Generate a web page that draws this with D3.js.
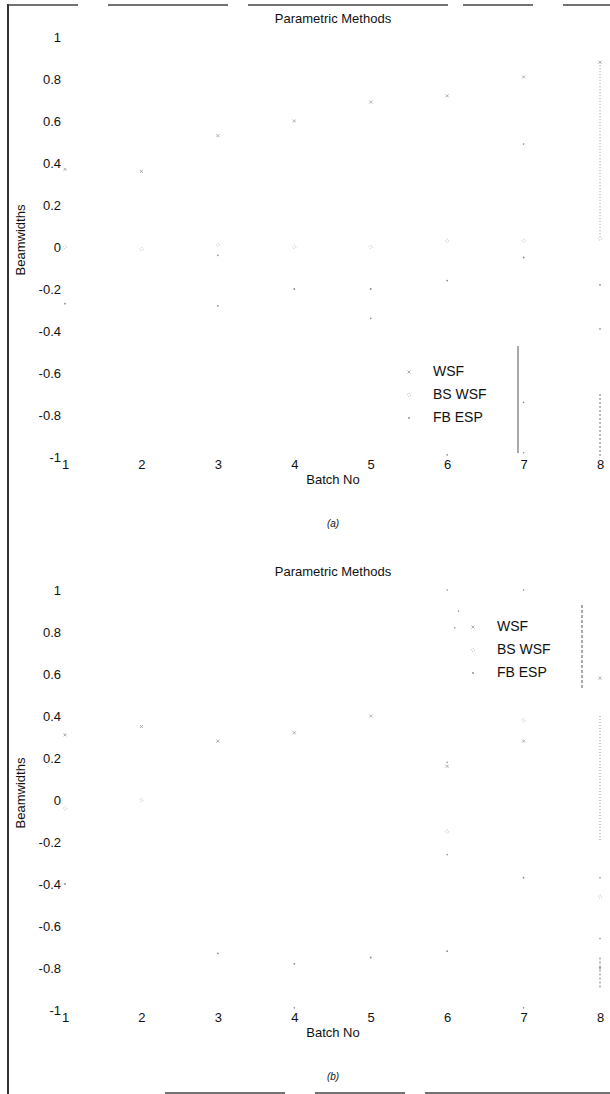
<!DOCTYPE html>
<html>
<head>
<meta charset="utf-8">
<script src="https://cdn.jsdelivr.net/npm/d3@7"></script>
<style>
  body { margin: 0; background: #fff; }
  text { font-family: "Liberation Sans", Arial, sans-serif; fill: #111; }
</style>
</head>
<body>
<script>
// Data
var batches = [1, 2, 3, 4, 5, 6, 7, 8];
var yTickValues = [1, 0.8, 0.6, 0.4, 0.2, 0, -0.2, -0.4, -0.6, -0.8, -1];
var yTickLabels = ["1", "0.8", "0.6", "0.4", "0.2", "0", "-0.2", "-0.4", "-0.6", "-0.8", "-1"];
var seriesNames = ["WSF", "BS WSF", "FB ESP"];

// panel (a)
var wsfA = [0.37, 0.36, 0.53, 0.60, 0.69, 0.72, 0.81, 0.88];
var bsWsfA = [0.00, -0.01, 0.01, 0.00, 0.00, 0.03, 0.03, 0.04];
var fbEspA = [-0.27, null, -0.28, -0.20, -0.20, -0.16, -0.05, -0.18];
var strayA = [[5, -0.34], [7, 0.49], [7, -0.74], [7, -0.98], [6, -0.99], [8, -0.39], [3, -0.04]];
var boxSegA = [[0.88, 0.05], [-0.7, -1]];

// panel (b)
var wsfB = [0.31, 0.35, 0.28, 0.32, 0.40, 0.16, 0.28, 0.58];
var bsWsfB = [-0.04, 0.00, null, null, null, -0.15, 0.38, -0.46];
var fbEspB = [-0.40, null, -0.73, -0.78, -0.75, -0.72, -0.37, -0.80];
var strayB = [[6, 1.0], [7, 1.0], [6.15, 0.9], [6.1, 0.82], [6, 0.18], [6, -0.26], [4, -0.99], [7, -0.99], [8, -0.66], [8, -0.37]];
var boxSegB = [[0.4, -0.2], [-0.75, -0.9]];

var svg = d3.select("body")
  .append("svg")
  .attr("width", 610)
  .attr("height", 1094);

// page frame of the scan
svg.append("line").attr("x1", 8).attr("x2", 8).attr("y1", 4).attr("y2", 1094)
  .attr("stroke", "#333").attr("stroke-width", 2);
svg.append("line").attr("x1", 8).attr("x2", 610).attr("y1", 5).attr("y2", 5)
  .attr("stroke", "#444").attr("stroke-width", 1.5).attr("stroke-dasharray", "70,30,120,20,200,15");
svg.append("line").attr("x1", 165).attr("x2", 610).attr("y1", 1093).attr("y2", 1093)
  .attr("stroke", "#444").attr("stroke-width", 1.5).attr("stroke-dasharray", "120,30,90,20,400");

function drawPanel(off, series, stray, boxSeg, legend, caption) {
  var x = d3.scaleLinear().domain([1, 8]).range([65, 600]);
  var y = d3.scaleLinear().domain([-1, 1]).range([457 + off, 37 + off]);

  // Y axis labels
  var yAxis = svg.append("g")
    .attr("transform", "translate(65,0)")
    .call(d3.axisLeft(y).tickValues(yTickValues).tickSize(0).tickPadding(4)
      .tickFormat((d, i) => yTickLabels[i]));
  yAxis.select(".domain").remove();
  yAxis.selectAll("text").attr("font-size", "13px").attr("font-family", null);

  // X axis labels
  var xAxis = svg.append("g")
    .attr("transform", `translate(0, ${457 + off})`)
    .call(d3.axisBottom(x).tickValues(batches).tickSize(0).tickPadding(3)
      .tickFormat(d3.format("d")));
  xAxis.select(".domain").remove();
  xAxis.selectAll("text").attr("font-size", "13px").attr("font-family", null);

  // faint right-hand box line, only partly printed
  svg.append("line")
    .attr("x1", x(8)).attr("x2", x(8))
    .attr("y1", y(boxSeg[0][0])).attr("y2", y(boxSeg[0][1]))
    .attr("stroke", "#999").attr("stroke-dasharray", "1,2");
  svg.append("line")
    .attr("x1", x(8)).attr("x2", x(8))
    .attr("y1", y(boxSeg[1][0])).attr("y2", y(boxSeg[1][1]))
    .attr("stroke", "#777").attr("stroke-dasharray", "2,2");

  // Titles
  svg.append("text")
    .attr("x", 333).attr("y", 20 + off)
    .attr("text-anchor", "middle").attr("dominant-baseline", "middle")
    .attr("font-size", "13px")
    .text("Parametric Methods");
  svg.append("text")
    .attr("x", 333).attr("y", 481 + off)
    .attr("text-anchor", "middle").attr("dominant-baseline", "middle")
    .attr("font-size", "13px")
    .text("Batch No");
  svg.append("text")
    .attr("transform", `translate(22, ${240 + off}) rotate(-90)`)
    .attr("text-anchor", "middle").attr("dominant-baseline", "middle")
    .attr("font-size", "13px")
    .text("Beamwidths");
  svg.append("text")
    .attr("x", 333).attr("y", 524 + off)
    .attr("text-anchor", "middle").attr("dominant-baseline", "middle")
    .attr("font-size", "10px").attr("font-style", "italic")
    .text(caption);

  // Points
  var g = svg.append("g");
  series.forEach(function(vals, s) {
    var pts = batches.map((b, i) => ({ b: b, v: vals[i] })).filter(d => d.v !== null);
    drawMarks(g, pts.map(d => [x(d.b), y(d.v)]), s);
  });
  g.selectAll(".stray")
    .data(stray)
    .enter()
    .append("circle")
    .attr("cx", d => x(d[0]))
    .attr("cy", d => y(d[1]))
    .attr("r", 0.8)
    .attr("fill", "#888");

  // Legend
  seriesNames.forEach(function(name, s) {
    var ly = legend.y + s * legend.step;
    drawMarks(svg, [[legend.x - 24, ly]], s);
    svg.append("text")
      .attr("x", legend.x).attr("y", ly)
      .attr("dominant-baseline", "middle")
      .attr("font-size", "14px")
      .text(name);
  });
  svg.append("line")
    .attr("x1", legend.right).attr("x2", legend.right)
    .attr("y1", legend.top).attr("y2", legend.bottom)
    .attr("stroke", "#555").attr("stroke-dasharray", legend.dash);
}

// faint scanned markers
function drawMarks(g, pts, s) {
  if (s === 0) {
    g.selectAll(null).data(pts).enter().append("path")
      .attr("d", d => `M${d[0] - 1.5},${d[1] - 1.5}L${d[0] + 1.5},${d[1] + 1.5}M${d[0] - 1.5},${d[1] + 1.5}L${d[0] + 1.5},${d[1] - 1.5}`)
      .attr("stroke", "#999").attr("stroke-width", 0.8);
  } else if (s === 1) {
    g.selectAll(null).data(pts).enter().append("circle")
      .attr("cx", d => d[0]).attr("cy", d => d[1]).attr("r", 1.6)
      .attr("fill", "none").attr("stroke", "#aaa").attr("stroke-width", 0.7)
      .attr("stroke-dasharray", "1,1.2");
  } else {
    g.selectAll(null).data(pts).enter().append("circle")
      .attr("cx", d => d[0]).attr("cy", d => d[1]).attr("r", 0.9)
      .attr("fill", "#888");
  }
}

drawPanel(0, [wsfA, bsWsfA, fbEspA], strayA, boxSegA,
  { x: 433, y: 372, step: 23, right: 518, top: 346, bottom: 453, dash: null }, "(a)");
drawPanel(553, [wsfB, bsWsfB, fbEspB], strayB, boxSegB,
  { x: 497, y: 627, step: 23, right: 582, top: 605, bottom: 690, dash: "3,2" }, "(b)");
</script>
</body>
</html>
